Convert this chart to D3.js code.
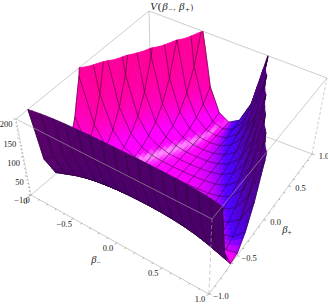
<!DOCTYPE html>
<html>
<head>
<meta charset="utf-8">
<script src="https://cdn.jsdelivr.net/npm/d3@7"></script>
<style>
html,body{margin:0;padding:0;background:#fff;}
svg{display:block;}
text{font-family:"Liberation Serif",serif;fill:#222;}
</style>
</head>
<body>
<script>
// grid the surface was read on
var betaMinus = [-1,-0.875,-0.75,-0.625,-0.5,-0.375,-0.25,-0.125,0,0.125,0.25,0.375,0.5,0.625,0.75,0.875,1];
var betaPlus = [-1,-0.875,-0.75,-0.625,-0.5,-0.375,-0.25,-0.125,0,0.125,0.25,0.375,0.5,0.625,0.75,0.875,1];
// V per betaPlus row, 400 = off the top of the box
var vRows = [
[400,400,400,400,400,400,400,400,400,400,400,400,400,400,400,400,400],
[254.1,291.2,316.4,333.4,344.4,351.5,355.8,358.1,358.8,358.1,355.8,351.5,344.4,333.4,316.4,291.2,254.1],
[56.8,80.6,98.1,110.3,118.6,123.9,127.2,129,129.5,129,127.2,123.9,118.6,110.3,98.1,80.6,56.8],
[3.9,13.9,23.9,31.9,37.7,41.6,44.1,45.4,45.8,45.4,44.1,41.6,37.7,31.9,23.9,13.9,3.9],
[7.2,0.9,2.8,6.5,10,12.6,14.3,15.3,15.6,15.3,14.3,12.6,10,6.5,2.8,0.9,7.2],
[38.3,10.2,1.9,0.7,1.7,3,4,4.7,4.9,4.7,4,3,1.7,0.7,1.9,10.2,38.3],
[93.3,33.1,10.5,2.8,0.7,0.5,0.9,1.2,1.3,1.2,0.9,0.5,0.7,2.8,10.5,33.1,93.3],
[180.5,70.5,26.4,9.3,3,0.9,0.3,0.2,0.2,0.2,0.3,0.9,3,9.3,26.4,70.5,180.5],
[319.5,129.9,51.8,20.1,7.4,2.5,0.7,0.1,0,0.1,0.7,2.5,7.4,20.1,51.8,129.9,319.5],
[400,225.1,92.2,37.2,14.6,5.4,1.8,0.4,0.1,0.4,1.8,5.4,14.6,37.2,92.2,225.1,400],
[400,379.7,157.4,64.5,25.8,9.9,3.4,0.9,0.2,0.9,3.4,9.9,25.8,64.5,157.4,379.7,400],
[400,400,263.5,108.8,44,17,5.9,1.5,0.4,1.5,5.9,17,44,108.8,263.5,400,400],
[400,400,400,181,73.4,28.4,9.8,2.4,0.5,2.4,9.8,28.4,73.4,181,400,400,400],
[400,400,400,299.7,121.6,47,16,3.8,0.6,3.8,16,47,121.6,299.7,400,400,400],
[400,400,400,400,200.8,77.5,26.2,6,0.7,6,26.2,77.5,200.8,400,400,400,400],
[400,400,400,400,331.3,127.6,42.9,9.6,0.8,9.6,42.9,127.6,331.3,400,400,400,400],
[400,400,400,400,400,210.2,70.4,15.3,0.8,15.3,70.4,210.2,400,400,400,400,400]
];
var betaTicks = [-1,-0.5,0,0.5,1];
var betaMinor = [-0.9,-0.8,-0.7,-0.6,-0.4,-0.3,-0.2,-0.1,0.1,0.2,0.3,0.4,0.6,0.7,0.8,0.9];
var vTicks = [0,50,100,150,200];
var vMinor = [10,20,30,40,60,70,80,90,110,120,130,140,160,170,180,190];

var width = 328, height = 305, topV = 200;

var svg = d3.select('body').append('svg').attr('width', width).attr('height', height);

// box corners on screen: base and top, l=(-1,-1) f=(1,-1) r=(1,1) b=(-1,1)
var base = {l:[31,195], f:[209,294], r:[312,154], b:[151,93]};
var lid = {l:[16,119], f:[212,219], r:[327,78], b:[149,11]};

var uScale = d3.scaleLinear().domain([-1,1]).range([0,1]);
var vScale = d3.scaleLinear().domain([-1,1]).range([0,1]);
var zScale = d3.scaleLinear().domain([0,topV]).range([0,1]);

function warp(t, r) { return t/(t+(1-t)*r); }

function corner(c, s, t) {
  return [0,1].map(function(k) {
    var front = c.l[k]+(c.f[k]-c.l[k])*s;
    var back = c.b[k]+(c.r[k]-c.b[k])*s;
    return front+(back-front)*t;
  });
}
function project(m, p, z) {
  var s = warp(uScale(m), 1.07), t = warp(vScale(p), 0.887), w = zScale(z);
  var a = corner(base, s, t), b = corner(lid, s, t);
  return [a[0]+(b[0]-a[0])*w, a[1]+(b[1]-a[1])*w];
}

// camera and lights, box coordinates
var cam = [1.3,-2.4,2];
function norm(a) { var l = Math.hypot(a[0],a[1],a[2]); return [a[0]/l,a[1]/l,a[2]/l]; }
function dot(a,b) { return a[0]*b[0]+a[1]*b[1]+a[2]*b[2]; }
function cross(a,b) { return [a[1]*b[2]-a[2]*b[1],a[2]*b[0]-a[0]*b[2],a[0]*b[1]-a[1]*b[0]]; }
function world(m,p,z) { return [m/2,p/2,(z/topV-0.5)*0.4]; }
var fwd = norm(cam), rgt = norm(cross([0,0,1],fwd)), upv = cross(fwd,rgt);
var lightR = norm([2,0,2]), lightB = norm([0,2,2]), highlight = norm([0.13,0.68,0.72]);

function shade(n, pos) {
  var toCam = [cam[0]-pos[0],cam[1]-pos[1],cam[2]-pos[2]];
  var under = dot(n,toCam) < 0;
  if (under) n = [-n[0],-n[1],-n[2]];
  var c = [dot(n,rgt),dot(n,upv),dot(n,fwd)];
  var dr = Math.max(0,dot(c,lightR)), db = Math.max(0,dot(c,lightB));
  var to255 = function(x) { return Math.round(255*Math.min(1,x)); };
  // the underside stays dark
  if (under) return d3.rgb(to255(0.29+0.25*dr), 0, to255(0.41+0.25*db)).toString();
  var r = 0.31+1.6*dr;
  var b = 0.4+0.9*Math.max(0,db-0.1);
  var sp = 0.55*Math.pow(Math.max(0,dot(c,highlight)),220);
  return d3.rgb(to255(r+sp), to255(sp), to255(b+sp)).toString();
}

// vertex normals from the grid
var normals = vRows.map(function(row,j) {
  return row.map(function(v,i) {
    var i0 = Math.max(0,i-1), i1 = Math.min(16,i+1), j0 = Math.max(0,j-1), j1 = Math.min(16,j+1);
    var zx = (row[i1]-row[i0])/(betaMinus[i1]-betaMinus[i0])*0.004;
    var zy = (vRows[j1][i]-vRows[j0][i])/(betaPlus[j1]-betaPlus[j0])*0.004;
    return norm([-zx,-zy,1]);
  });
});
var normalParts = [0,1,2].map(function(k) {
  return normals.map(function(r) { return r.map(function(q) { return q[k]; }); });
});

function bilin(g, i, j, fa, fb) {
  var a = g[j][i]+(g[j][i+1]-g[j][i])*fa;
  var b = g[j+1][i]+(g[j+1][i+1]-g[j+1][i])*fa;
  return a+(b-a)*fb;
}
function clipTop(pts, closed) {
  var out = [], n = pts.length, last = closed ? n : n-1;
  for (var k=0; k<last; k++) {
    var a = pts[k], b = pts[(k+1)%n];
    if (a[2] <= topV && (k==0 || closed)) out.push(a);
    if ((a[2] <= topV) != (b[2] <= topV)) {
      var t = (topV-a[2])/(b[2]-a[2]);
      out.push([a[0]+(b[0]-a[0])*t,a[1]+(b[1]-a[1])*t,topV]);
    }
    if (!closed && b[2] <= topV) out.push(b);
  }
  return out;
}
function distTo(pts) {
  var c = [d3.mean(pts,function(q){return q[0];}),d3.mean(pts,function(q){return q[1];}),d3.mean(pts,function(q){return q[2];})];
  var w = world(c[0],c[1],c[2]);
  return {d:Math.hypot(w[0]-cam[0],w[1]-cam[1],w[2]-cam[2]), w:w};
}

var sub = 3, items = [];
function point(i,j,fa,fb) {
  var m = betaMinus[i]+(betaMinus[i+1<17?i+1:i]-betaMinus[i])*fa;
  var p = betaPlus[j]+(betaPlus[j+1<17?j+1:j]-betaPlus[j])*fb;
  var ii = Math.min(i,15), jj = Math.min(j,15);
  var ga = i>15 ? 1 : fa, gb = j>15 ? 1 : fb;
  return [m,p,bilin(vRows,ii,jj,ga,gb)];
}
d3.range(16).forEach(function(j) {
  d3.range(16).forEach(function(i) {
    d3.range(sub).forEach(function(a) {
      d3.range(sub).forEach(function(b) {
        var fa0=a/sub, fa1=(a+1)/sub, fb0=b/sub, fb1=(b+1)/sub;
        var poly = clipTop([point(i,j,fa0,fb0),point(i,j,fa1,fb0),point(i,j,fa1,fb1),point(i,j,fa0,fb1)], true);
        if (poly.length < 3) return;
        var fc=(fa0+fa1)/2, gc=(fb0+fb1)/2;
        var n = norm(normalParts.map(function(g) { return bilin(g,i,j,fc,gc); }));
        var dw = distTo(poly);
        items.push({kind:'face', pts:poly, d:dw.d, color:shade(n,dw.w)});
      });
    });
  });
});
// mesh lines go in the same depth order, a little nearer than their faces
function addSeg(pts) {
  var seg = clipTop(pts,false);
  if (seg.length < 2) return;
  items.push({kind:'mesh', pts:seg, d:distTo(seg).d-0.035});
}
d3.range(17).forEach(function(j) {
  d3.range(16).forEach(function(i) {
    d3.range(sub).forEach(function(a) {
      addSeg([point(i,j,a/sub,0),point(i,j,(a+1)/sub,0)]);
    });
  });
});
d3.range(17).forEach(function(i) {
  d3.range(16).forEach(function(j) {
    d3.range(sub).forEach(function(b) {
      addSeg([point(i,j,0,b/sub),point(i,j,0,(b+1)/sub)]);
    });
  });
});
items.sort(function(a,b) { return d3.descending(a.d,b.d); });

var boxLine = d3.line();
function edge(a, b, dash) {
  svg.append('line').attr('x1',a[0]).attr('y1',a[1]).attr('x2',b[0]).attr('y2',b[1])
    .attr('stroke','#aaa').attr('stroke-width',0.6).attr('stroke-dasharray',dash||null);
}
// back of the box, behind the surface
edge(base.l,base.b); edge(base.b,base.r); edge(base.b,lid.b);
edge(lid.l,lid.b); edge(lid.b,lid.r);

var proj2 = function(q) { return project(q[0],q[1],q[2]); };
svg.append('g').selectAll('path').data(items).enter().append('path')
  .attr('d', function(d) { return boxLine(d.pts.map(proj2)) + (d.kind=='face' ? 'Z' : ''); })
  .attr('fill', function(d) { return d.kind=='face' ? d.color : 'none'; })
  .attr('stroke', function(d) { return d.kind=='face' ? d.color : '#1a0a22'; })
  .attr('stroke-width', function(d) { return d.kind=='face' ? 0.8 : 0.6; })
  .attr('stroke-opacity', function(d) { return d.kind=='face' ? 1 : 0.85; });

// front of the box, over the surface
edge(lid.l,lid.f); edge(lid.f,lid.r);
edge(base.l,lid.l,'2,1.5'); edge(base.f,lid.f,'4,2.5'); edge(base.r,lid.r,'3,2');
edge(base.l,base.f); edge(base.f,base.r);

function tick(p, dx, dy, long) {
  var k = long ? 1 : 0.6;
  svg.append('line').attr('x1',p[0]).attr('y1',p[1]).attr('x2',p[0]+dx*k).attr('y2',p[1]+dy*k)
    .attr('stroke','#666').attr('stroke-width',0.5);
}
function label(p, txt, anchor) {
  svg.append('text').attr('x',p[0]).attr('y',p[1]).attr('font-size',8.5)
    .attr('text-anchor',anchor||'middle').text(txt);
}
var fmt = function(v) { return (v<0?'\u2212':'')+Math.abs(v).toFixed(1); };

betaTicks.forEach(function(b) {
  var a = project(b,-1,0), c = project(1,b,0);
  tick(a,-2.5,1.5,true); tick(c,2.5,0.5,true);
  label([a[0]-9,a[1]+8],fmt(b));
  label([c[0]+12,c[1]+5],fmt(b));
});
betaMinor.forEach(function(b) {
  var a = project(b,-1,0), c = project(1,b,0);
  tick(a,-2.5,1.5); tick(c,2.5,0.5);
});
vTicks.forEach(function(v) {
  var a = project(-1,-1,v);
  tick(a,-2.5,0,true);
  label([a[0]-3.5,a[1]+(v==200?8:9)],String(v),'end');
});
vMinor.forEach(function(v) { tick(project(-1,-1,v),-2.5,0); });

function sublabel(x, y, size, parts, spacing) {
  var t = svg.append('text').attr('x',x).attr('y',y).attr('font-size',size).attr('text-anchor','middle')
    .attr('letter-spacing',spacing||0);
  parts.forEach(function(q) {
    var s = t.append('tspan').text(q.t).attr('font-style',q.i?'italic':null);
    if (q.s) s.attr('font-size',size*0.7).attr('dy',q.s);
  });
}
sublabel(172,10,11,[{t:'V',i:1},{t:'('},{t:'\u03b2',i:1},{t:'\u2212',s:2},{t:', ',s:-2},{t:'\u03b2',i:1},{t:'+',s:2},{t:')',s:-2}],0.8);
sublabel(96,263,10.5,[{t:'\u03b2',i:1},{t:'\u2212',s:2}]);
sublabel(287,233,10.5,[{t:'\u03b2',i:1},{t:'+',s:2}]);
</script>
</body>
</html>
